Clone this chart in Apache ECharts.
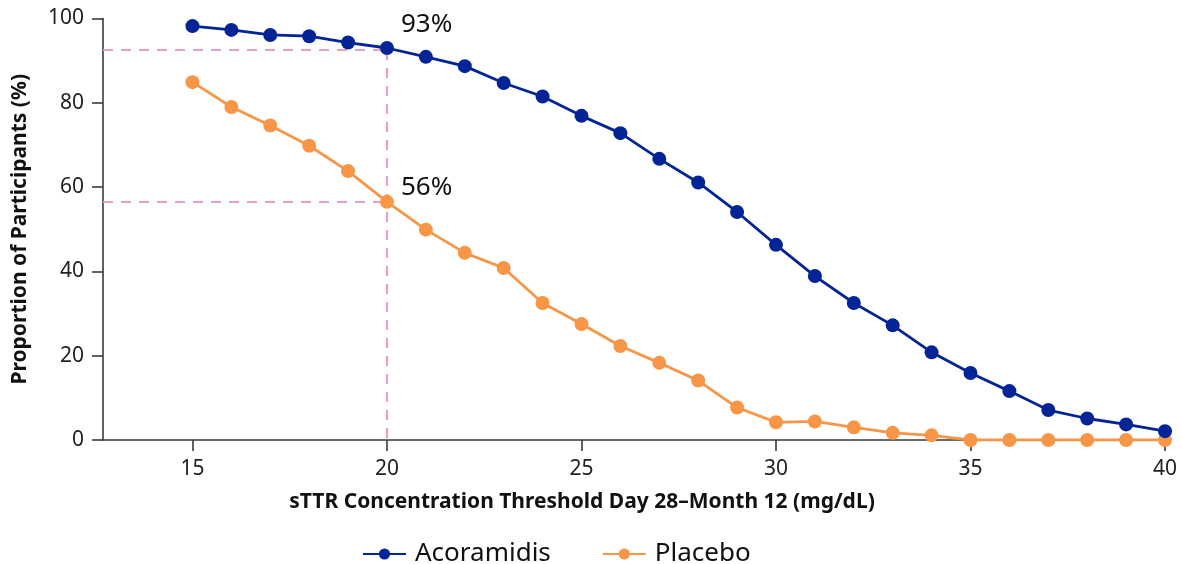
<!DOCTYPE html>
<html>
<head>
    <meta charset="utf-8">
    <title>sTTR threshold</title>
    <script src="https://cdn.jsdelivr.net/npm/echarts@6/dist/echarts.min.js"></script>
    <style>
        html, body { margin: 0; padding: 0; background: #fff; }
        #main { width: 1182px; height: 564px; }
    </style>
</head>
<body>
<div id="main"></div>
<script type="text/javascript">
    // thresholds (mg/dL)
    var thresholds = [15, 16, 17, 18, 19, 20, 21, 22, 23, 24, 25, 26, 27, 28, 29, 30, 31, 32, 33, 34, 35, 36, 37, 38, 39, 40];
    // proportion of participants (%)
    var acoramidis = [98.2, 97.3, 96.1, 95.8, 94.3, 93.0, 90.9, 88.7, 84.7, 81.5, 76.9, 72.8, 66.7, 61.1, 54.1, 46.3, 38.9, 32.5, 27.2, 20.8, 15.9, 11.6, 7.1, 5.1, 3.7, 2.1];
    var placebo = [84.9, 79.0, 74.6, 69.8, 63.8, 56.5, 49.9, 44.4, 40.8, 32.5, 27.5, 22.3, 18.3, 14.1, 7.7, 4.2, 4.4, 3.0, 1.7, 1.1, 0, 0, 0, 0, 0, 0];
    var xTicks = [15, 20, 25, 30, 35, 40];
    var xMin = 12.7, xMax = 40;
    // call-outs at 20 mg/dL
    var refX = 20;
    var refAcoramidis = 92.5, refPlacebo = 56.5;
    var labelAcoramidis = '93%', labelPlacebo = '56%';

    var blue = '#022496', orange = '#F79646', pink = '#E9A0C8';
    var font = 'Noto Sans';

    function pairs(ys) {
        return thresholds.map(function (x, i) { return [x, ys[i]]; });
    }

    var dashStyle = { color: pink, width: 2.2, type: [10, 8] };
    var axisColor = '#3a3a3a';

    var myChart = echarts.init(document.getElementById('main'));
    var option = {
        animation: false,
        textStyle: { fontFamily: font },
        grid: { left: 103, right: 17, top: 18.5, bottom: 124 },
        legend: {
            data: ['Acoramidis', 'Placebo'],
            left: 357, top: 536,
            itemWidth: 43, itemHeight: 14, itemGap: 51,
            textStyle: { fontSize: 26, color: '#111', fontFamily: font, padding: [0, 0, 0, 4] }
        },
        xAxis: {
            type: 'value', min: xMin, max: xMax,
            name: 'sTTR Concentration Threshold Day 28\u2013Month 12 (mg/dL)',
            nameLocation: 'middle', nameGap: 52,
            nameTextStyle: { fontSize: 21, fontWeight: 'bold', color: '#111', padding: [0, 104, 0, 0] },
            splitLine: { show: false },
            axisLine: { lineStyle: { color: axisColor, width: 1.6 } },
            axisTick: { show: true, length: 11, customValues: xTicks, lineStyle: { color: axisColor, width: 1.6 } },
            axisLabel: { customValues: xTicks, fontSize: 21, color: '#222', margin: 19 }
        },
        yAxis: {
            type: 'value', min: 0, max: 100, interval: 20,
            name: 'Proportion of Participants (%)',
            nameLocation: 'middle', nameGap: 72,
            nameTextStyle: { fontSize: 21, fontWeight: 'bold', color: '#111' },
            splitLine: { show: false },
            axisLine: { show: true, lineStyle: { color: axisColor, width: 1.6 } },
            axisTick: { show: true, length: 11, lineStyle: { color: axisColor, width: 1.6 } },
            axisLabel: { fontSize: 21, color: '#222', margin: 19 }
        },
        series: [
            {
                name: 'Placebo', type: 'line', data: pairs(placebo),
                symbol: 'circle', symbolSize: 14, z: 3,
                itemStyle: { color: orange },
                lineStyle: { color: orange, width: 2.8 },
                markLine: {
                    silent: true, symbol: 'none', label: { show: false }, z: 1,
                    lineStyle: dashStyle,
                    data: [[{ coord: [xMin, refPlacebo] }, { coord: [refX, refPlacebo] }]]
                },
                markPoint: {
                    silent: true, symbol: 'circle', symbolSize: 0,
                    data: [{ coord: [refX, refPlacebo], value: labelPlacebo }],
                    label: { show: true, formatter: '{c}', position: [14, -14], align: 'left', verticalAlign: 'middle', fontSize: 26, color: '#111', fontFamily: font }
                }
            },
            {
                name: 'Acoramidis', type: 'line', data: pairs(acoramidis),
                symbol: 'circle', symbolSize: 14, z: 4,
                itemStyle: { color: blue },
                lineStyle: { color: blue, width: 2.8 },
                markLine: {
                    silent: true, symbol: 'none', label: { show: false }, z: 1,
                    lineStyle: dashStyle,
                    data: [
                        [{ coord: [xMin, refAcoramidis] }, { coord: [refX, refAcoramidis] }],
                        [{ coord: [refX, refAcoramidis] }, { coord: [refX, 0] }]
                    ]
                },
                markPoint: {
                    silent: true, symbol: 'circle', symbolSize: 0,
                    data: [{ coord: [refX, 93], value: labelAcoramidis }],
                    label: { show: true, formatter: '{c}', position: [14, -23], align: 'left', verticalAlign: 'middle', fontSize: 26, color: '#111', fontFamily: font }
                }
            }
        ]
    };
    myChart.setOption(option);
</script>
</body>
</html>
